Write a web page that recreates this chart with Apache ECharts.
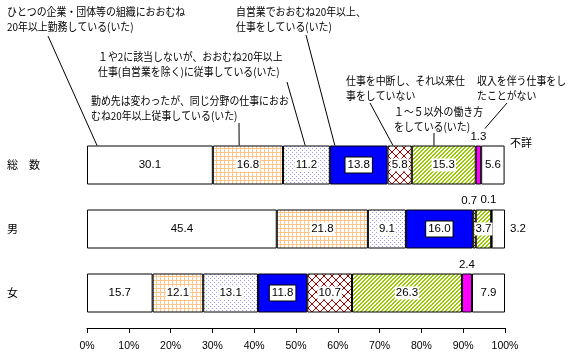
<!DOCTYPE html>
<html>
<head>
<meta charset="utf-8">
<script src="https://cdn.jsdelivr.net/npm/echarts@6/dist/echarts.min.js"></script>
<style>
html,body{margin:0;padding:0;background:#fff;}
#main{width:578px;height:362px;}
</style>
</head>
<body>
<div id="main"></div>
<script>
// ---- data ----
const categories = ['総　数', '男', '女'];
const seriesNames = [
  'ひとつの企業・団体等の組織におおむね20年以上勤務している(いた)',
  '勤め先は変わったが、同じ分野の仕事におおむね20年以上従事している(いた)',
  '１や2に該当しないが、おおむね20年以上仕事(自営業を除く)に従事している(いた)',
  '自営業でおおむね20年以上、仕事をしている(いた)',
  '仕事を中断し、それ以来仕事をしていない',
  '１～５以外の働き方をしている(いた)',
  '収入を伴う仕事をしたことがない',
  '不詳'
];
const oneOrg      = [30.1, 45.4, 15.7];
const sameField   = [16.8, 21.8, 12.1];
const otherLong   = [11.2,  9.1, 13.1];
const selfEmp     = [13.8, 16.0, 11.8];
const interrupted = [ 5.8,  0.7, 10.7];
const otherWork   = [15.3,  3.7, 26.3];
const neverWorked = [ 1.3,  0.1,  2.4];
const unknown     = [ 5.6,  3.2,  7.9];
const xTicks = [0, 10, 20, 30, 40, 50, 60, 70, 80, 90, 100];

// ---- patterns ----
function pat(w, h, draw) {
  const c = document.createElement('canvas');
  c.width = w; c.height = h;
  const g = c.getContext('2d');
  g.fillStyle = '#ffffff'; g.fillRect(0, 0, w, h);
  draw(g);
  return { image: c, repeat: 'repeat' };
}
const gridPat = pat(4, 4, g => { g.fillStyle = '#FFC488'; g.fillRect(0, 0, 4, 1); g.fillRect(0, 0, 1, 4); });
const dotPat = pat(4, 4, g => { g.fillStyle = '#9A9AFF'; g.fillRect(0, 0, 1, 1); g.fillRect(2, 2, 1, 1); });
const crossPat = pat(8, 8, g => { g.fillStyle = '#990000'; for (let i = 0; i < 8; i++) { g.fillRect(i, i, 1, 1); g.fillRect(7 - i, i, 1, 1); } });
const stripePat = pat(4, 4, g => { g.fillStyle = '#99CC00'; for (let i = 0; i < 4; i++) { g.fillRect(i, 3 - i, 1, 1); g.fillRect((i + 1) % 4, 3 - i, 1, 1); } });

const FONT = "'Liberation Sans', Arial, sans-serif";
const JFONT = "'Noto Sans CJK JP', sans-serif";

const baseLabel = {
  show: true, position: 'inside', color: '#000', fontSize: 11.5, fontFamily: FONT,
  backgroundColor: '#fff', padding: [1, 1, 0, 1],
  formatter: p => p.value.toFixed(1)
};
function mkData(vals, overrides) {
  return vals.map((v, i) => (overrides && overrides[i]) ? { value: v, label: overrides[i] } : v);
}
function mkSeries(name, vals, color, labelExtra, overrides) {
  return {
    name: name, type: 'bar', stack: 'all', barWidth: 39,
    data: mkData(vals, overrides),
    itemStyle: { color: color, borderColor: '#000', borderWidth: 1 },
    label: Object.assign({}, baseLabel, labelExtra || {}),
    emphasis: { disabled: true }
  };
}
const topLbl = { position: 'top', backgroundColor: 'transparent', distance: 3 };

const series = [
  mkSeries(seriesNames[0], oneOrg, '#ffffff', { backgroundColor: 'transparent' }),
  mkSeries(seriesNames[1], sameField, gridPat),
  mkSeries(seriesNames[2], otherLong, dotPat),
  mkSeries(seriesNames[3], selfEmp, '#0000FF', { borderColor: '#000', borderWidth: 1, padding: [2, 2, 1, 2] }),
  mkSeries(seriesNames[4], interrupted, crossPat, {}, { 1: Object.assign({}, topLbl, { offset: [-5, 0] }) }),
  mkSeries(seriesNames[5], otherWork, stripePat, {}),
  mkSeries(seriesNames[6], neverWorked, '#FF00FF', topLbl, { 1: Object.assign({}, topLbl, { offset: [-3, 0] }) }),
  mkSeries(seriesNames[7], unknown, '#ffffff', { backgroundColor: 'transparent' }, { 1: { position: 'right', distance: 4, backgroundColor: 'transparent' } })
];

const chart = echarts.init(document.getElementById('main'), null, { renderer: 'canvas' });
chart.setOption({
  animation: false,
  backgroundColor: '#fff',
  grid: { left: 87, right: 73, top: 133, height: 192 },
  xAxis: {
    type: 'value', min: xTicks[0], max: xTicks[xTicks.length - 1], interval: 10, offset: 3,
    axisLine: { show: true, lineStyle: { color: '#000', width: 1 } },
    axisTick: { show: true, length: 5, lineStyle: { color: '#000' } },
    splitLine: { show: false },
    axisLabel: { color: '#000', fontSize: 10.5, fontFamily: FONT, margin: 13, formatter: '{value}%' }
  },
  yAxis: {
    type: 'category', data: categories, inverse: true,
    axisLine: { show: false }, axisTick: { show: false },
    axisLabel: { color: '#000', fontSize: 11, fontFamily: JFONT, align: 'left', margin: 80 }
  },
  series: series
});

// ---- annotations with leader lines ----
const annotations = [
  { lines: ['ひとつの企業・団体等の組織におおむね', '20年以上勤務している(いた)'], x: 7, y: 5, from: [48, 36], cat: 0, at: 2.4, dy: 0 },
  { lines: ['勤め先は変わったが、同じ分野の仕事におお', 'むね20年以上従事している(いた)'], x: 91, y: 94, from: [239, 123], cat: 0, at: 36.4, dy: 0 },
  { lines: ['１や2に該当しないが、おおむね20年以上', '仕事(自営業を除く)に従事している(いた)'], x: 98, y: 50, from: [287, 82], cat: 0, at: 52.2, dy: 0 },
  { lines: ['自営業でおおむね20年以上、', '仕事をしている(いた)'], x: 236, y: 5, from: [306, 35], cat: 0, at: 59.3, dy: 0 },
  { lines: ['仕事を中断し、それ以来仕', '事をしていない'], x: 346, y: 74, from: [370, 103], cat: 0, at: 73.2, dy: 0 },
  { lines: ['１～５以外の働き方', 'をしている(いた)'], x: 394, y: 105, from: [434, 133], cat: 0, at: 83.0, dy: 0 },
  { lines: ['収入を伴う仕事をし', 'たことがない'], x: 477, y: 74, from: [507, 103], cat: 0, at: 95.2, dy: -17 }
];
const graphics = [];
annotations.forEach(a => {
  graphics.push({ type: 'text', x: a.x, y: a.y, scaleX: 0.9, silent: true,
    style: { text: a.lines.join('\n'), fill: '#000', font: '11px ' + JFONT, lineHeight: 14.5,
             textVerticalAlign: 'top', verticalAlign: 'top' } });
  const px = chart.convertToPixel({ xAxisIndex: 0 }, a.at);
  const cy = chart.convertToPixel({ yAxisIndex: 0 }, categories[a.cat]);
  const ey = cy - 39 / 2 + a.dy;
  graphics.push({ type: 'line', silent: true,
    shape: { x1: a.from[0], y1: a.from[1], x2: px, y2: ey },
    style: { stroke: '#000', lineWidth: 1 } });
});
// "不詳" tag next to total bar
const endX = chart.convertToPixel({ xAxisIndex: 0 }, 100);
const totY = chart.convertToPixel({ yAxisIndex: 0 }, categories[0]);
graphics.push({ type: 'text', left: endX + 5, top: totY - 28, silent: true,
  style: { text: '不詳', fill: '#000', font: '11px ' + JFONT } });
chart.setOption({ graphic: graphics });
</script>
</body>
</html>
